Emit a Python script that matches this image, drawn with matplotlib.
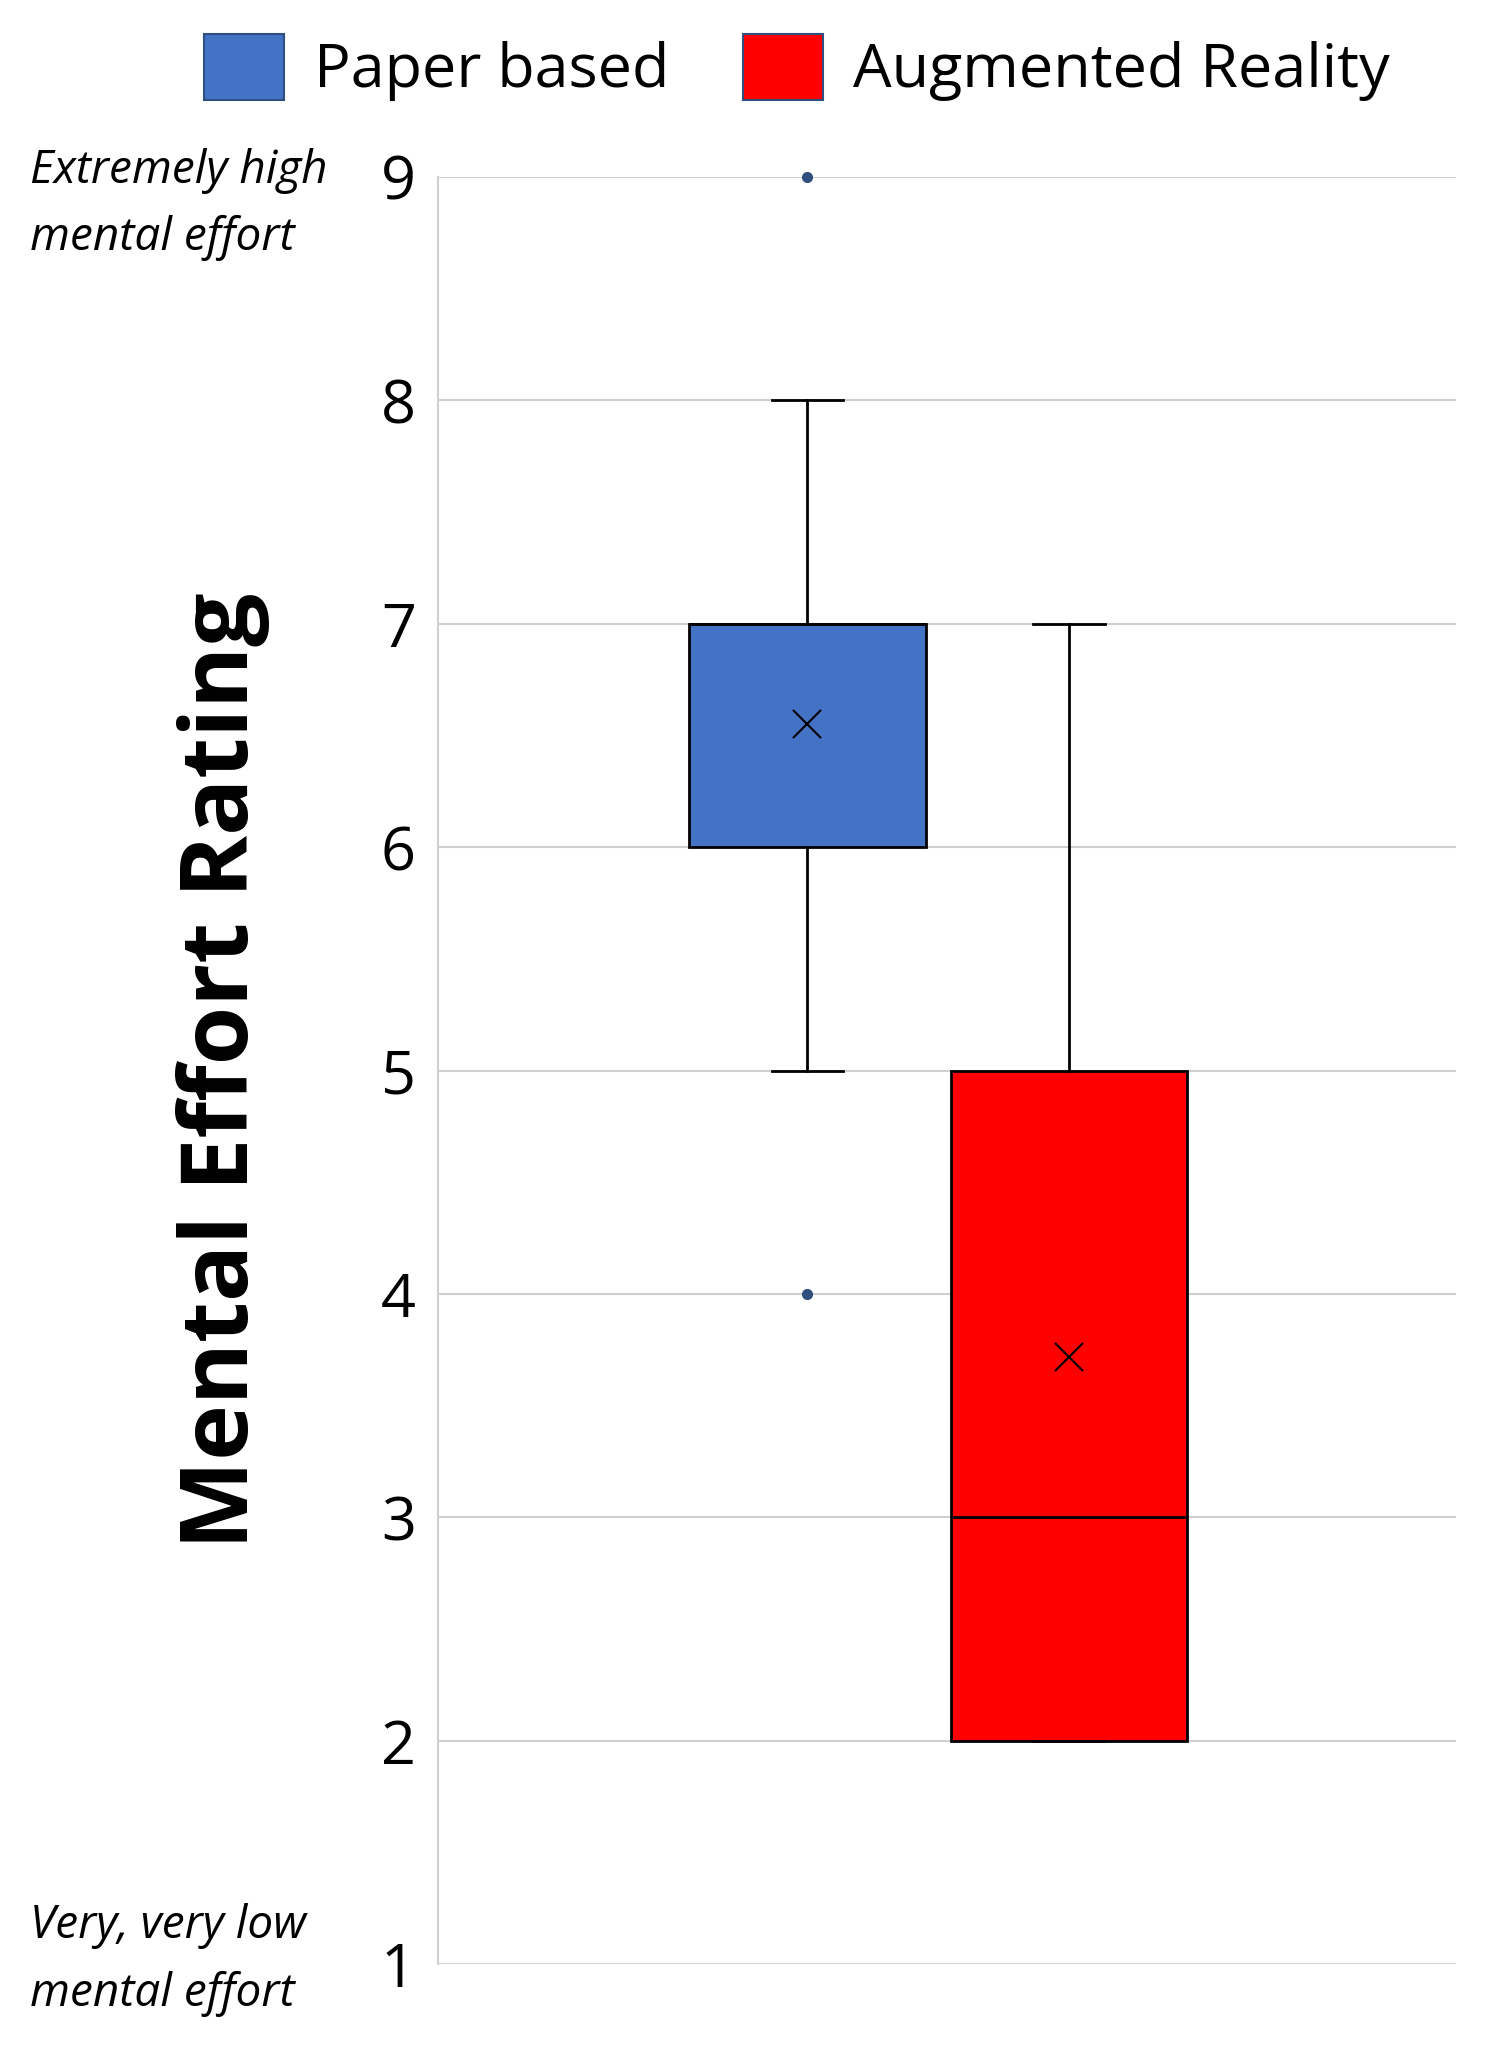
import matplotlib
matplotlib.use("Agg")
import matplotlib.pyplot as plt
from matplotlib.patches import Patch

groups = ["Paper based", "Augmented Reality"]
colors = ["#4472C4", "#FF0000"]
q1 = [6, 2]
med = [7, 3]
q3 = [7, 5]
whislo = [5, 2]
whishi = [8, 7]
means = [6.55, 3.72]
fliers = [[4, 9], []]
yticks = [1, 2, 3, 4, 5, 6, 7, 8, 9]

plt.rcParams['font.family'] = ['Open Sans', 'DejaVu Sans']
fig = plt.figure(figsize=(14.9, 20.46), dpi=100)
ax = fig.add_axes([0.294, 0.040, 0.683, 0.8735])

stats = []
for i in range(2):
    stats.append(dict(q1=q1[i], med=med[i], q3=q3[i], whislo=whislo[i], whishi=whishi[i],
                      mean=means[i], fliers=fliers[i], label=groups[i]))
bp = ax.bxp(stats, positions=[0.363, 0.62], widths=0.232, patch_artist=True, showmeans=True,
            meanprops=dict(marker='x', markeredgecolor='black', markersize=20, markeredgewidth=1.5),
            flierprops=dict(marker='o', markerfacecolor='#2F4F7F', markeredgecolor='#2F4F7F', markersize=7),
            medianprops=dict(color='black', linewidth=2),
            whiskerprops=dict(color='black', linewidth=2),
            capprops=dict(color='black', linewidth=2),
            boxprops=dict(linewidth=2), capwidths=0.07)
for p, c in zip(bp['boxes'], colors):
    p.set_facecolor(c)
    p.set_edgecolor('black')
for a in bp['fliers'] + bp['means']:
    a.set_clip_on(False)
    a.set_zorder(5)

ax.set_xlim(0, 1)
ax.set_ylim(1, 9)
ax.set_yticks(yticks)
ax.set_xticks([])
ax.grid(axis='y', color='#D0D0D0', linewidth=1.5)
ax.set_axisbelow(True)
for s in ['top', 'right', 'bottom']:
    ax.spines[s].set_visible(False)
ax.spines['left'].set_color('#D0D0D0')
ax.spines['left'].set_linewidth(1.5)
ax.tick_params(axis='y', length=0, labelsize=44, pad=16)
ax.set_ylabel("Mental Effort Rating", fontsize=68, fontweight='bold', labelpad=80)

fig.text(0.02, 0.90, "Extremely high\nmental effort", fontsize=33, style='italic',
         va='center', ha='left', linespacing=1.6)
fig.text(0.02, 0.042, "Very, very low\nmental effort", fontsize=33, style='italic',
         va='center', ha='left', linespacing=1.6)

handles = [Patch(facecolor=c, edgecolor='#2F4F7F', linewidth=1.5) for c in colors]
fig.legend(handles, groups, loc='center', bbox_to_anchor=(0.535, 0.967), ncol=2, frameon=False,
           fontsize=44, handlelength=1.3, handleheight=1.3, columnspacing=1.2, handletextpad=0.5)

fig.savefig("out.png", dpi=100)
